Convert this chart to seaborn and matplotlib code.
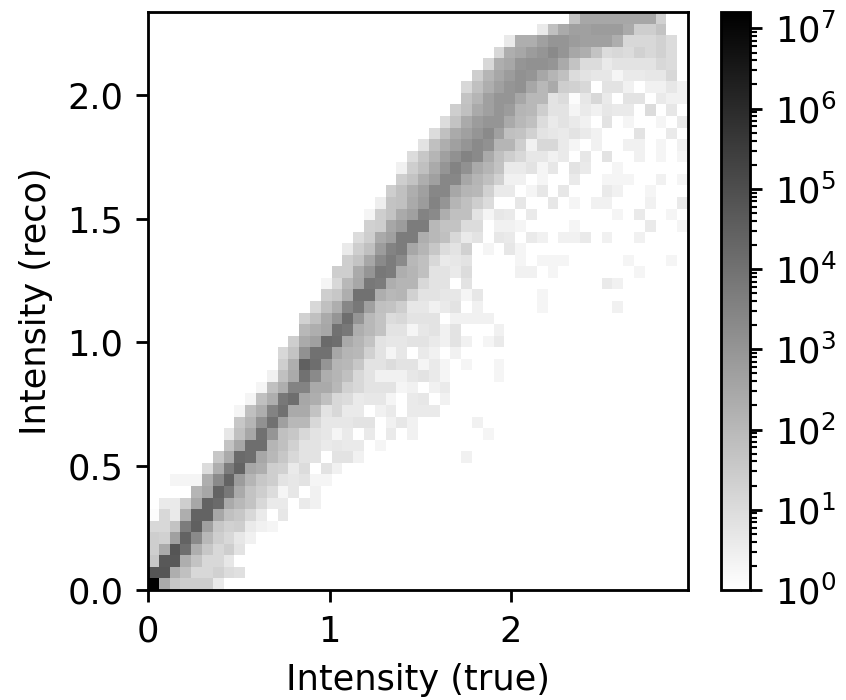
import numpy as np
import pandas as pd
import seaborn as sns
import matplotlib
matplotlib.use("Agg")
import matplotlib.pyplot as plt
from matplotlib.colors import LogNorm

# 50 x 50 histogram, axis limits
n_bins = 50
x_max = 2.975
y_max = 2.335
count_max = 1.6e7

# one entry per row from the bottom: first filled column
row_start = [0, 0, 0, 0, 0, 0, 0, 1, 4, 2, 5, 6, 7, 7, 8, 8, 9, 10, 11, 12, 12, 13, 14, 14, 15,
             16, 16, 17, 18, 18, 19, 20, 20, 21, 22, 23, 23, 24, 25, 26, 27, 28, 29, 29, 30,
             31, 32, 33, 36, 39]

# log10(count) * 10 for each cell of the row, 0 = empty
row_levels = [
    [72, 24, 16, 14, 14, 14, 6],
    [48, 48, 23, 18, 11, 11, 13, 10, 9],
    [16, 47, 47, 23, 17, 11, 11, 7],
    [14, 24, 48, 41, 23, 16, 11, 14, 8],
    [14, 13, 27, 44, 33, 20, 14, 11, 7, 4],
    [11, 11, 17, 37, 45, 27, 16, 13, 14, 6, 4, 3],
    [1, 11, 6, 23, 44, 44, 25, 18, 16, 11, 6, 0, 7],
    [6, 6, 14, 25, 44, 42, 24, 20, 17, 11, 6, 6, 0, 6, 4],
    [21, 25, 44, 38, 24, 17, 14, 10, 3, 7, 0, 4],
    [3, 3, 3, 23, 33, 44, 28, 21, 16, 14, 8, 7, 8, 3, 3],
    [10, 23, 37, 44, 25, 23, 14, 13, 6, 10, 0, 8, 4],
    [16, 24, 42, 41, 25, 20, 16, 11, 8, 8, 0, 8, 8, 4, 0, 0, 0, 0, 0, 0, 0, 0, 0, 4],
    [17, 25, 41, 41, 21, 18, 13, 8, 8, 6, 7, 6, 6, 0, 3],
    [7, 18, 25, 40, 30, 18, 16, 11, 8, 7, 3, 6, 0, 6, 0, 6, 0, 4, 0, 0, 0, 0, 0, 0, 3],
    [16, 21, 31, 40, 27, 20, 20, 11, 7, 7, 7, 8, 8, 0, 4, 7, 4, 0, 0, 0, 0, 0, 4],
    [3, 18, 23, 35, 40, 24, 24, 17, 8, 11, 6, 6, 0, 4, 6, 0, 6, 6, 6],
    [3, 18, 23, 38, 41, 25, 23, 18, 11, 10, 6, 7, 7, 3, 0, 6, 7, 0, 4],
    [3, 18, 23, 35, 35, 24, 24, 20, 13, 11, 8, 8, 8, 3, 4, 0, 4, 6],
    [4, 18, 24, 40, 33, 23, 21, 18, 11, 8, 4, 4, 4, 7, 8, 6, 3, 0, 0, 0, 0, 3],
    [14, 23, 45, 41, 30, 21, 20, 16, 8, 8, 10, 8, 8, 3, 6, 3, 0, 3, 0, 0, 3],
    [11, 17, 31, 40, 40, 25, 21, 20, 13, 8, 3, 7, 0, 6, 4, 0, 4],
    [14, 24, 27, 42, 41, 24, 21, 17, 8, 7, 7, 8, 8, 6, 4, 8, 4, 0, 3, 6],
    [20, 23, 25, 40, 38, 23, 20, 17, 8, 8, 3, 7, 8, 4, 8, 0, 0, 0, 4],
    [13, 18, 24, 30, 41, 30, 20, 17, 10, 11, 8, 8, 8, 0, 4, 4, 4, 4],
    [11, 18, 23, 34, 38, 27, 18, 17, 14, 7, 7, 4, 6, 8, 0, 4, 0, 0, 0, 0, 0, 3, 0, 0, 0, 0, 0, 0, 4],
    [14, 16, 23, 40, 40, 23, 20, 21, 13, 8, 8, 7, 7, 3, 7, 0, 0, 0, 0, 0, 3],
    [3, 11, 20, 25, 38, 37, 23, 21, 21, 11, 8, 8, 0, 8, 0, 0, 0, 0, 0, 0, 0, 0, 0, 0, 0, 0, 6, 4],
    [14, 14, 24, 30, 38, 37, 23, 21, 18, 8, 8, 6, 10, 0, 0, 0, 0, 4, 4, 0, 3, 0, 0, 0, 0, 0, 0, 0, 3],
    [14, 17, 25, 33, 37, 33, 20, 18, 11, 6, 7, 8, 0, 0, 0, 0, 3, 0, 3, 3, 3, 0, 0, 0, 0, 0, 3, 0, 0, 0, 3],
    [6, 14, 18, 28, 35, 37, 25, 21, 16, 10, 8, 13, 0, 3, 0, 7, 3],
    [10, 14, 24, 27, 37, 37, 23, 20, 18, 11, 6, 8, 0, 7, 6, 0, 6, 4, 0, 4, 4, 6, 0, 4, 0, 0, 4],
    [13, 14, 25, 28, 37, 37, 20, 17, 17, 10, 10, 0, 4, 4, 3, 0, 0, 0, 0, 3, 0, 0, 0, 0, 0, 0, 6, 0, 0, 3],
    [3, 14, 17, 24, 27, 35, 33, 23, 18, 18, 8, 3, 7, 6, 0, 6, 0, 0, 0, 0, 0, 0, 0, 3, 0, 6, 0, 0, 3],
    [5, 17, 18, 24, 28, 35, 30, 21, 18, 14, 10, 0, 0, 7, 0, 0, 7, 0, 3, 0, 4, 4, 0, 0, 0, 4, 0, 0, 6],
    [14, 18, 23, 27, 34, 34, 25, 21, 20, 13, 6, 6, 0, 3, 7, 0, 7, 0, 0, 0, 6, 4, 0, 0, 3],
    [14, 17, 23, 27, 34, 34, 25, 21, 18, 13, 4, 4, 0, 3, 0, 0, 6, 0, 0, 3, 3, 3, 0, 0, 4, 0, 3],
    [4, 14, 18, 24, 30, 35, 31, 24, 21, 17, 6, 6, 8, 3, 7, 0, 8, 6, 0, 0, 3],
    [10, 16, 21, 27, 31, 35, 33, 24, 18, 14, 11, 7, 7, 4, 6, 0, 7, 0, 8, 0, 0, 4, 0, 3, 0, 3],
    [8, 18, 23, 27, 30, 33, 31, 21, 21, 14, 4, 11, 11, 6, 3, 0, 4, 0, 0, 4, 4, 0, 3, 0, 4],
    [10, 18, 24, 27, 30, 33, 27, 18, 17, 13, 8, 7, 6, 8, 6, 4, 0, 0, 0, 8, 0, 0, 6],
    [10, 17, 24, 28, 30, 30, 24, 20, 18, 10, 6, 8, 6, 4, 0, 8, 0, 3, 0, 0, 3, 0, 6],
    [14, 18, 24, 27, 30, 28, 21, 20, 14, 8, 8, 3, 6, 4, 7, 6, 6, 0, 10, 0, 7],
    [17, 21, 27, 30, 30, 25, 20, 20, 8, 10, 1, 7, 11, 6, 0, 8, 8, 0, 6, 4, 4],
    [11, 18, 23, 27, 30, 31, 25, 20, 24, 14, 13, 11, 0, 8, 8, 4, 0, 4, 4, 7, 4],
    [14, 21, 25, 28, 31, 30, 25, 21, 18, 10, 8, 7, 7, 3, 6, 6, 7, 7, 11],
    [11, 23, 25, 30, 31, 31, 30, 24, 17, 10, 10, 6, 8, 8, 8, 8, 11, 10],
    [11, 23, 25, 28, 30, 33, 30, 25, 23, 17, 10, 11, 10, 13, 11, 13, 10],
    [6, 23, 23, 27, 30, 30, 28, 27, 27, 27, 23, 11, 11, 11, 13, 10],
    [6, 18, 24, 27, 27, 28, 28, 28, 24, 14, 14, 17],
    [17, 25, 25, 25, 25, 25, 25, 25, 13],
]

x_edges = np.linspace(0, x_max, n_bins + 1)
y_edges = np.linspace(0, y_max, n_bins + 1)
x_centers = (x_edges[:-1] + x_edges[1:]) / 2
y_centers = (y_edges[:-1] + y_edges[1:]) / 2

records = []
for row, (start, levels) in enumerate(zip(row_start, row_levels)):
    for col, level in enumerate(levels, start):
        if level > 0:
            records.append((x_centers[col], y_centers[row], 10 ** (level / 10)))
df = pd.DataFrame(records, columns=["true", "reco", "count"])

dpi = 253
fig_w, fig_h = 846, 700
fig = plt.figure(figsize=(fig_w / dpi, fig_h / dpi), dpi=dpi)
ax = fig.add_axes([148 / fig_w, 1 - 590 / fig_h, 540 / fig_w, 578 / fig_h])
cax = fig.add_axes([721 / fig_w, 1 - 590 / fig_h, 29 / fig_w, 578 / fig_h])

sns.histplot(data=df, x="true", y="reco", weights="count", bins=[x_edges, y_edges],
             cmap="gray_r", thresh=None, ax=ax)

# seaborn hands vmax to pcolormesh, so the log norm goes on afterwards
mesh = ax.collections[0]
mesh.set_norm(LogNorm(1, count_max))
fig.colorbar(mesh, cax=cax)

ax.set_xlim(0, x_max)
ax.set_ylim(0, y_max)
ax.set_xticks([0, 1, 2])
ax.set_yticks([0, 0.5, 1, 1.5, 2])
ax.set_yticklabels(["0.0", "0.5", "1.0", "1.5", "2.0"])
ax.set_xlabel("Intensity (true)")
ax.set_ylabel("Intensity (reco)")

fig.savefig("out.png", dpi=dpi)
